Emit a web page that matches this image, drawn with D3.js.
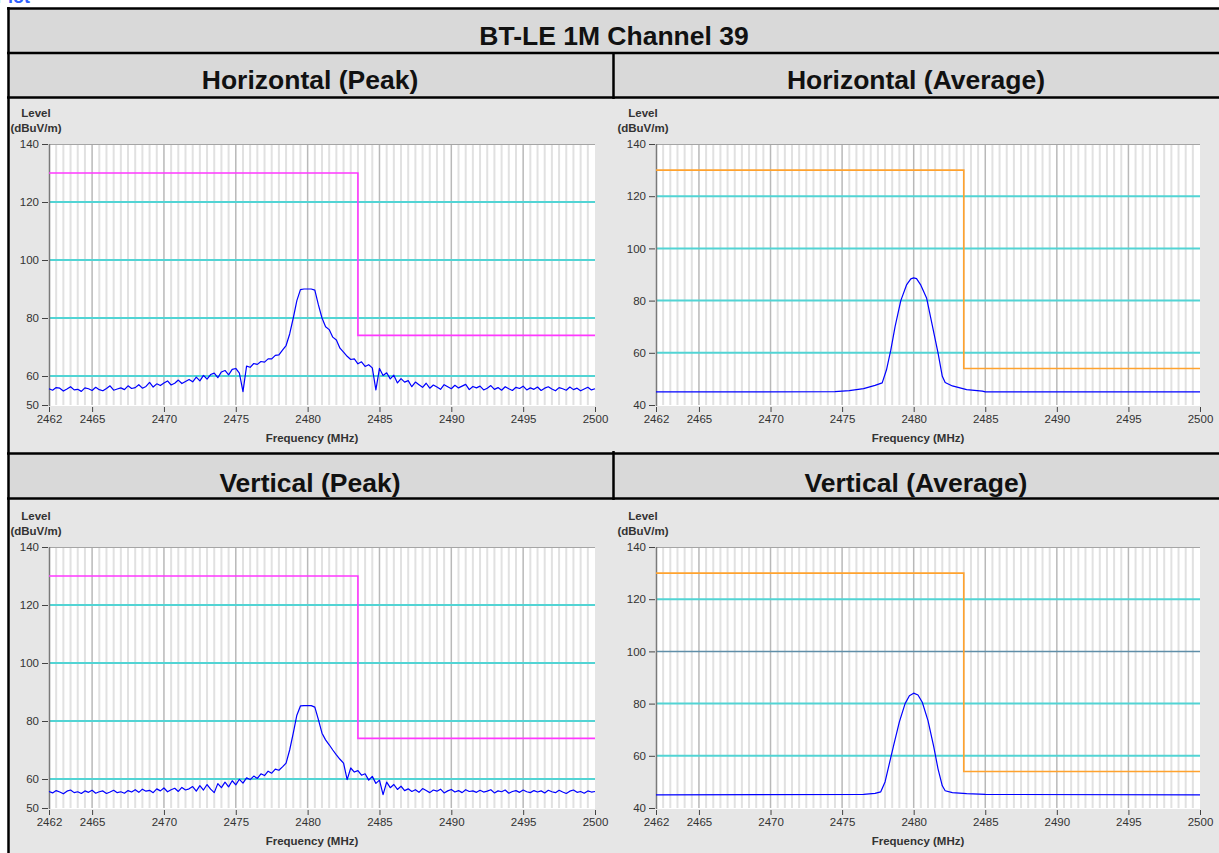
<!DOCTYPE html>
<html>
<head>
<meta charset="utf-8">
<script src="https://cdn.jsdelivr.net/npm/d3@7"></script>
<style>
  html, body { margin: 0; padding: 0; background: #fff; overflow: hidden; }
  svg { display: block; font-family: "Liberation Sans", Arial, sans-serif; }
</style>
</head>
<body>
<div id="wrapper"></div>
<script>
const title = "BT-LE 1M Channel 39";
const panelTitles = ["Horizontal (Peak)", "Horizontal (Average)", "Vertical (Peak)", "Vertical (Average)"];
const freqTicks = [2462, 2465, 2470, 2475, 2480, 2485, 2490, 2495, 2500];
const levelTicksPeak = [50, 60, 80, 100, 120, 140];
const levelTicksAvg = [40, 60, 80, 100, 120, 140];
const gridLevels = [60, 80, 100, 120];

// limit lines (dBuV/m)
const limitFreq = [2462, 2483.5, 2483.5, 2500];
const peakLimit = [130, 130, 74, 74];
const avgLimit = [130, 130, 54, 54];

// peak traces, one value every 0.25 MHz from 2462 to 2500
const peakStart = 2462;
const peakStep = 0.25;
const hPeak = [
  55.6, 55.1, 56.0, 55.8, 54.8, 55.5, 56.3, 55.2, 55.4, 54.7, 55.9, 55.6, 55.0, 56.1, 55.3, 54.9, 55.7, 56.6, 55.1, 55.5,
  55.9, 55.3, 56.6, 55.7, 56.0, 57.0, 55.8, 56.4, 57.8, 56.2, 57.3, 56.7, 57.6, 58.3, 56.9, 57.5, 58.6, 57.4, 58.1, 58.8,
  58.0, 59.6, 58.3, 60.2, 58.9, 60.5, 61.0, 59.4, 61.4, 61.9, 60.4, 62.3, 62.6, 61.0, 54.6, 63.4, 63.0, 64.3, 64.0, 65.0,
  64.8, 65.9, 65.9, 67.1, 67.3, 68.9, 70.5, 74.5, 80.0, 86.0, 89.8, 90.0, 90.0, 90.0, 89.6, 84.5, 80.0, 77.0, 76.0, 73.4,
  72.4, 69.6, 68.2, 66.8, 65.7, 65.9, 64.2, 64.9, 63.3, 63.9, 62.8, 55.2, 62.6, 60.2, 61.1, 59.0, 60.3, 57.6, 59.1, 57.9,
  58.4, 56.3, 57.9, 57.0, 56.1, 57.5, 55.8, 56.9, 56.2, 55.4, 57.0, 56.3, 55.6, 56.8, 55.9, 56.5, 57.1, 55.3, 56.4, 55.9,
  56.5, 55.2, 55.8, 56.7, 55.4, 56.0, 55.1, 56.3, 55.6, 55.0, 56.1, 55.7, 56.5, 55.2, 55.9, 55.4, 56.2, 55.0, 55.8, 56.3,
  55.5, 54.9, 56.0, 55.6, 55.1, 56.2, 55.3, 55.8, 54.9, 55.5, 56.1, 55.2, 55.6
];
const vPeak = [
  55.7, 55.2, 56.0, 55.5, 54.9, 55.8, 56.2, 55.3, 55.6, 55.0, 55.9, 55.4, 56.1, 55.1, 55.6, 55.9, 55.0, 55.5, 56.1, 55.3,
  55.6, 55.1, 56.0, 55.5, 56.3, 55.4, 56.5, 55.8, 56.1, 55.3, 56.6, 55.9, 56.9, 55.6, 56.3, 56.8, 55.7, 57.1, 56.2, 56.6,
  57.4, 55.8, 57.7, 56.2, 58.1, 56.5, 55.3, 58.4, 57.0, 58.9, 57.3, 59.4, 58.0, 59.9, 58.6, 60.4, 59.8, 61.0, 60.2, 61.8,
  61.2, 62.7, 62.0, 63.4, 63.0, 64.2, 65.5, 70.0, 75.8, 82.0, 85.2, 85.3, 85.3, 85.3, 84.8, 80.5, 75.8, 73.5, 71.8, 70.0,
  68.3, 66.8, 65.5, 59.8, 63.8, 62.4, 62.9, 61.3, 61.8, 59.6, 60.9, 58.5, 59.6, 54.6, 58.9, 57.0, 58.1, 56.4, 57.5, 56.0,
  56.6, 55.7, 56.3, 55.4, 56.7, 56.0, 55.3, 56.2, 55.8, 56.5, 55.2, 55.9, 56.4, 55.5, 56.0, 55.3, 56.3, 55.7, 55.9, 55.4,
  56.1, 55.5, 55.8, 56.3, 55.2, 55.9, 55.6, 56.2, 55.1, 55.7, 56.0, 55.4, 56.2, 55.6, 55.3, 56.0, 55.5, 55.9, 55.2, 56.1,
  55.6, 55.3, 56.1, 55.5, 55.0, 55.8, 56.2, 55.4, 55.7, 55.1, 55.9, 55.5, 55.7
];

// average traces (smooth, read at break points)
const hAvgFreq = [2462, 2474.5, 2475.5, 2476.5, 2477.3, 2477.8, 2478.1, 2478.4, 2478.7, 2479.1, 2479.5, 2479.8, 2480.0,
  2480.2, 2480.5, 2480.9, 2481.3, 2481.7, 2482.0, 2482.2, 2482.7, 2483.7, 2484.8, 2485.0, 2500];
const hAvgLevel = [45.0, 45.1, 45.5, 46.3, 47.5, 48.5, 53.5, 61.0, 70.0, 80.0, 86.0, 88.3, 88.7,
  88.4, 85.9, 81.0, 70.5, 60.0, 51.0, 48.6, 47.3, 45.9, 45.3, 45.0, 45.0];
const vAvgFreq = [2462, 2476.5, 2477.3, 2477.7, 2478.0, 2478.3, 2478.6, 2479.0, 2479.4, 2479.7, 2480.0,
  2480.3, 2480.6, 2481.0, 2481.4, 2481.7, 2482.0, 2482.2, 2482.7, 2483.7, 2485.0, 2500];
const vAvgLevel = [45.0, 45.2, 45.6, 46.2, 50.0, 57.0, 64.0, 73.0, 80.0, 83.0, 84.0,
  83.3, 80.5, 73.5, 63.5, 55.0, 48.5, 46.6, 45.9, 45.5, 45.2, 45.0];

const width = 1219, height = 853;
const font = "'Liberation Sans', Arial, sans-serif";

const svg = d3.select("#wrapper").append("svg")
  .attr("width", width)
  .attr("height", height);

// cut-off caption above the table
svg.append("text")
  .attr("x", -4).attr("y", 3)
  .attr("font-size", 18).attr("font-weight", "bold")
  .attr("fill", "#2f62ff")
  .text("Plot");

// table cells
svg.append("rect").attr("x", 9).attr("y", 9).attr("width", 1211).attr("height", 88).attr("fill", "#d9d9d9");
svg.append("rect").attr("x", 9).attr("y", 453).attr("width", 1211).attr("height", 45).attr("fill", "#d9d9d9");
svg.append("rect").attr("x", 9).attr("y", 98).attr("width", 1211).attr("height", 355).attr("fill", "#e6e6e6");
svg.append("rect").attr("x", 9).attr("y", 499).attr("width", 1211).attr("height", 354).attr("fill", "#e6e6e6");

const border = svg.append("g").attr("stroke", "#000").attr("stroke-width", 2.5);
[8.5, 53, 97.5, 453.5, 498.5].forEach(y => {
  border.append("line").attr("x1", 7).attr("x2", 1221).attr("y1", y).attr("y2", y);
});
border.append("line").attr("x1", 8.5).attr("x2", 8.5).attr("y1", 7).attr("y2", height);
border.append("line").attr("x1", 613.5).attr("x2", 613.5).attr("y1", 53).attr("y2", 99);
border.append("line").attr("x1", 613.5).attr("x2", 613.5).attr("y1", 451).attr("y2", 500);

svg.append("text")
  .attr("x", 614).attr("y", 45)
  .attr("text-anchor", "middle")
  .attr("font-size", 26.5).attr("font-weight", "bold")
  .attr("fill", "#111")
  .text(title);

const headerPos = [[310, 89], [916, 89], [310, 492], [916, 492]];
panelTitles.forEach((t, i) => {
  svg.append("text")
    .attr("x", headerPos[i][0]).attr("y", headerPos[i][1])
    .attr("text-anchor", "middle")
    .attr("font-size", 26.5).attr("font-weight", "bold")
    .attr("fill", "#111")
    .text(t);
});

const peakFreq = hPeak.map((d, i) => peakStart + i * peakStep);

const panels = [
  { x0: 49, x1: 595, y0: 144, y1: 405, domain: [50, 140], ticks: levelTicksPeak,
    freq: peakFreq, level: hPeak, limit: peakLimit, limitColor: "#ff38ff" },
  { x0: 656, x1: 1200, y0: 144, y1: 405, domain: [40, 140], ticks: levelTicksAvg,
    freq: hAvgFreq, level: hAvgLevel, limit: avgLimit, limitColor: "#ffa22e" },
  { x0: 49, x1: 595, y0: 547, y1: 808, domain: [50, 140], ticks: levelTicksPeak,
    freq: peakFreq, level: vPeak, limit: peakLimit, limitColor: "#ff38ff" },
  { x0: 656, x1: 1200, y0: 547, y1: 808, domain: [40, 140], ticks: levelTicksAvg,
    freq: vAvgFreq, level: vAvgLevel, limit: avgLimit, limitColor: "#ffa22e", darkLevel: 100 }
];

panels.forEach(p => {
  const x = d3.scaleLinear().domain([2462, 2500]).range([p.x0, p.x1]);
  const y = d3.scaleLinear().domain(p.domain).range([p.y1, p.y0]);
  const g = svg.append("g");

  g.append("rect")
    .attr("x", p.x0).attr("y", p.y0)
    .attr("width", p.x1 - p.x0).attr("height", p.y1 - p.y0 + 1)
    .attr("fill", "#fff");

  // minor vertical grid every 0.5 MHz
  const minor = d3.range(2462.5, 2500.01, 0.5).filter(f => f % 5 !== 0);
  g.append("g").selectAll("line")
    .data(minor)
    .join("line")
    .attr("x1", d => x(d)).attr("x2", d => x(d))
    .attr("y1", p.y0).attr("y2", p.y1)
    .attr("stroke", "#e1e1e1")
    .attr("stroke-width", 2);

  g.append("g").selectAll("line")
    .data(freqTicks.slice(1, -1))
    .join("line")
    .attr("x1", d => x(d)).attr("x2", d => x(d))
    .attr("y1", p.y0).attr("y2", p.y1)
    .attr("stroke", "#b9b9b9")
    .attr("stroke-width", 1.5);

  g.append("g").selectAll("line")
    .data(gridLevels)
    .join("line")
    .attr("x1", p.x0).attr("x2", p.x1)
    .attr("y1", d => y(d)).attr("y2", d => y(d))
    .attr("stroke", d => d === p.darkLevel ? "#5f8ea8" : "#52d4d4")
    .attr("stroke-width", d => d === p.darkLevel ? 1.5 : 2);

  g.append("line")
    .attr("x1", p.x0).attr("x2", p.x1)
    .attr("y1", p.y0 + 0.5).attr("y2", p.y0 + 0.5)
    .attr("stroke", "#a5a5a5");
  g.append("line")
    .attr("x1", p.x0 + 0.5).attr("x2", p.x0 + 0.5)
    .attr("y1", p.y0).attr("y2", p.y1 + 1)
    .attr("stroke", "#7a7a7a")
    .attr("stroke-width", 1.5);

  // y axis
  const yAxis = g.append("g")
    .attr("transform", `translate(${p.x0 - 1},0)`)
    .call(d3.axisLeft(y).tickValues(p.ticks).tickFormat(d3.format("d"))
      .tickSize(6).tickPadding(3).tickSizeOuter(0));
  yAxis.select(".domain").remove();
  yAxis.selectAll("line").attr("stroke", "#444");
  yAxis.selectAll("text").attr("font-size", 11.5).attr("font-family", font).attr("fill", "#333");

  // x axis
  const xAxis = g.append("g")
    .attr("transform", `translate(0,${p.y1 + 2})`)
    .call(d3.axisBottom(x).tickValues(freqTicks).tickFormat(d3.format("d"))
      .tickSize(5).tickPadding(3).tickSizeOuter(0));
  xAxis.select(".domain").remove();
  xAxis.selectAll("line").attr("stroke", "#444");
  xAxis.selectAll("text").attr("font-size", 11.5).attr("font-family", font).attr("fill", "#333");

  g.append("text")
    .attr("x", (p.x0 + p.x1) / 2 - 10).attr("y", p.y1 + 37)
    .attr("text-anchor", "middle")
    .attr("font-size", 11.5).attr("font-weight", "bold")
    .attr("fill", "#333")
    .text("Frequency (MHz)");

  const lx = p.x0 - 13;
  g.append("text")
    .attr("x", lx).attr("y", p.y0 - 27)
    .attr("text-anchor", "middle")
    .attr("font-size", 11.5).attr("font-weight", "bold")
    .attr("fill", "#333")
    .text("Level");
  g.append("text")
    .attr("x", lx).attr("y", p.y0 - 12)
    .attr("text-anchor", "middle")
    .attr("font-size", 11.5).attr("font-weight", "bold")
    .attr("fill", "#333")
    .text("(dBuV/m)");

  // limit line
  const limitLine = d3.line()
    .x((d, i) => x(limitFreq[i]))
    .y(d => y(d));
  g.append("path")
    .attr("d", limitLine(p.limit))
    .attr("fill", "none")
    .attr("stroke", p.limitColor)
    .attr("stroke-width", 1.6);

  // measured trace
  const trace = d3.line()
    .x((d, i) => x(p.freq[i]))
    .y(d => y(d));
  g.append("path")
    .attr("d", trace(p.level))
    .attr("fill", "none")
    .attr("stroke", "#0000ff")
    .attr("stroke-width", 1.2)
    .attr("stroke-linejoin", "round");
});
</script>
</body>
</html>
